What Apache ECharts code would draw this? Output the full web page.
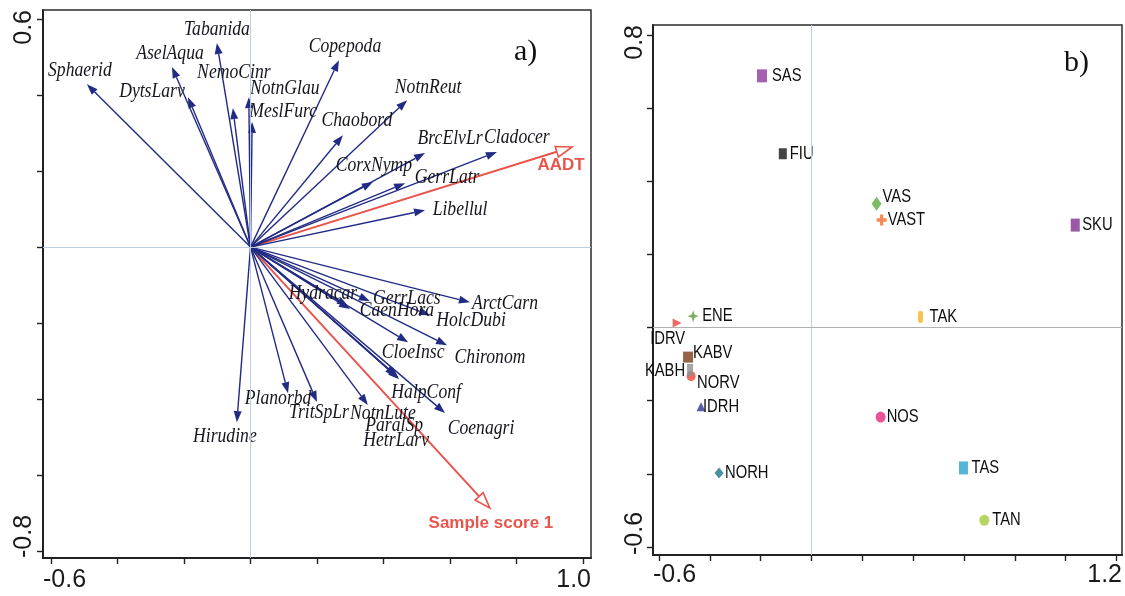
<!DOCTYPE html>
<html><head><meta charset="utf-8">
<script src="https://cdn.jsdelivr.net/npm/echarts@6/dist/echarts.min.js"></script>
<style>html,body{margin:0;padding:0;background:#fff}#c{width:1125px;height:596px}</style>
</head><body><div id="c"></div>
<script>
// ---------- Panel a) : species arrows ----------
const speciesNames = ['Sphaerid','AselAqua','Tabanida','DytsLarv','NemoCinr','NotnGlau','MeslFurc','Copepoda','NotnReut','Chaobord','BrcElvLr','Cladocer','CorxNymp','GerrLatr','Libellul','Hydracar','GerrLacs','CaenHora','ArctCarn','HolcDubi','CloeInsc','Chironom','HalpConf','Coenagri','Planorbd','TritSpLr','NotnLute','ParalSp','HetrLarv','Hirudine'];
const speciesX = [-0.492,-0.236,-0.101,-0.188,-0.053,-0.005,0.005,0.266,0.471,0.278,0.525,0.741,0.368,0.465,0.525,0.293,0.359,0.299,0.660,0.540,0.474,0.591,0.444,0.585,0.113,0.200,0.353,0.438,0.447,-0.041];
const speciesY = [0.428,0.473,0.536,0.394,0.365,0.394,0.329,0.491,0.386,0.294,0.247,0.250,0.171,0.168,0.097,-0.155,-0.142,-0.163,-0.145,-0.179,-0.250,-0.258,-0.342,-0.436,-0.384,-0.407,-0.415,-0.339,-0.347,-0.460];
// supplementary (red) arrows
const envNames = ['AADT','Sample score 1'];
const envX = [0.967, 0.720];
const envY = [0.263, -0.686];
// axis a
const axA = {xMin:-0.624, xMax:1.024, yMin:-0.817, yMax:0.623};
const ticksAX = [-0.6,-0.4,-0.2,0,0.2,0.4,0.6,0.8,1.0];
const ticksAY = [-0.8,-0.6,-0.4,-0.2,0,0.2,0.4,0.6];
const tickLabelsAX = ['-0.6','1.0'];
const tickLabelsAY = ['-0.8','0.6'];

// ---------- Panel b) : sites ----------
const siteNames = ['SAS','FIU','VAS','VAST','SKU','TAK','ENE','IDRV','NORV','KABH','KABV','IDRH','NORH','NOS','TAS','TAN'];
const siteX = [-0.195,-0.113,0.256,0.276,1.038,0.429,-0.466,-0.529,-0.474,-0.478,-0.486,-0.435,-0.364,0.272,0.598,0.680];
const siteY = [0.688,0.475,0.338,0.294,0.280,0.029,0.031,0.012,-0.133,-0.116,-0.081,-0.217,-0.398,-0.245,-0.384,-0.527];
const axB = {xMin:-0.624, xMax:1.222, yMin:-0.622, yMax:0.827};
const ticksBX = [-0.6,-0.4,-0.2,0,0.2,0.4,0.6,0.8,1.0,1.2];
const ticksBY = [-0.6,-0.4,-0.2,0,0.2,0.4,0.6,0.8];
const tickLabelsBX = ['-0.6','1.2'];
const tickLabelsBY = ['-0.6','0.8'];

// ---------- styles / label placement (pixels) ----------
const labelOffA = {
  Sphaerid:[-7,-14], AselAqua:[-2,-14], Tabanida:[0,-14], DytsLarv:[-36,-6], NemoCinr:[1,-36],
  NotnGlau:[36,-9], MeslFurc:[31,-10], Copepoda:[6,-14], NotnReut:[21,-13], Chaobord:[14,-15],
  BrcElvLr:[25,-15], Cladocer:[20,-14], CorxNymp:[1,-17], GerrLatr:[42,-6], Libellul:[35,-1],
  Hydracar:[-25,-13], GerrLacs:[37,-3], CaenHora:[47,1], ArctCarn:[35,1], HolcDubi:[41,5],
  CloeInsc:[5,10], Chironom:[43,12], HalpConf:[28,15], Coenagri:[36,15], Planorbd:[-10,5],
  TritSpLr:[2,11], NotnLute:[15,8], ParalSp:[-2,49], HetrLarv:[-3,61], Hirudine:[-12,14],
  'AADT':[-11,18], 'Sample score 1':[1,15]
};
// [dx, dy, align] of each site label relative to its marker
const labelOffB = {
  SAS:[10,0,'left'], FIU:[7,0,'left'], VAS:[6,-7,'left'], VAST:[6,0,'left'], SKU:[7,0,'left'],
  TAK:[9,0,'left'], ENE:[9,0,'left'], IDRV:[-27,16,'left'], NORV:[6,7,'left'], KABH:[-5,1,'right'],
  KABV:[5,-4,'left'], IDRH:[2,0,'left'], NORH:[6,0,'left'], NOS:[6,0,'left'], TAS:[8,0,'left'], TAN:[8,0,'left']
};
const NAVY = '#222b84', RED = '#e8554d';
const plusPath = 'path://M3.4,0H6.6V3.4H10V6.6H6.6V10H3.4V6.6H0V3.4H3.4Z';
const starPath = 'path://M5,0L6.3,3.7L10,5L6.3,6.3L5,10L3.7,6.3L0,5L3.7,3.7Z';
const siteStyle = {
  SAS:{symbol:'rect',size:[10,13],color:'#8d3a9d'},
  FIU:{symbol:'rect',size:[8,11],color:'#151515'},
  VAS:{symbol:'diamond',size:[10,14],color:'#5cab3d'},
  VAST:{symbol:plusPath,size:[10,11],color:'#f26c2b'},
  SKU:{symbol:'rect',size:[9,13],color:'#7e3094'},
  TAK:{symbol:'roundRect',size:[5,12],color:'#f6b420'},
  ENE:{symbol:starPath,size:[11,12],color:'#5e9b3b'},
  IDRV:{symbol:'triangle',size:[9,9],color:'#e8433a',rotate:-90},
  NORV:{symbol:'circle',size:[9,10],color:'#e8473c'},
  KABH:{symbol:'rect',size:[6,12],color:'#8e8e8e'},
  KABV:{symbol:'rect',size:[10,11],color:'#7a3c1c'},
  IDRH:{symbol:'triangle',size:[9,9],color:'#2b3596'},
  NORH:{symbol:'diamond',size:[9,11],color:'#1e7488'},
  NOS:{symbol:'circle',size:[10,11],color:'#e6287d'},
  TAS:{symbol:'rect',size:[9,13],color:'#2aa3c9'},
  TAN:{symbol:'circle',size:[10,11],color:'#a6c93a'}
};

const chart = echarts.init(document.getElementById('c'));

function arrowItem(api, x, y, name, kind) {
  const o = api.coord([0, 0]);
  const p = api.coord([x, y]);
  const dx = p[0]-o[0], dy = p[1]-o[1];
  const len = Math.sqrt(dx*dx+dy*dy);
  const ux = dx/len, uy = dy/len;
  const red = kind === 'env';
  const hl = red ? 16 : 11, hw = red ? 5.5 : 4;
  const b = [p[0]-ux*hl, p[1]-uy*hl];
  const l = [b[0]-uy*hw, b[1]+ux*hw], r = [b[0]+uy*hw, b[1]-ux*hw];
  const off = labelOffA[name] || [0,0];
  const children = [
    {type:'line', shape:{x1:o[0],y1:o[1],x2:b[0],y2:b[1]}, style:{stroke: red?RED:NAVY, lineWidth: red?2:1.4}},
    {type:'polygon', shape:{points:[p,l,r]}, style: red ? {fill:'#fff', stroke:RED, lineWidth:1.6} : {fill:NAVY}},
    red ? {type:'text', x:p[0]+off[0], y:p[1]+off[1], z2:10,
        style:{text:name, font:'bold 17px "Liberation Sans", Arial, sans-serif', fill:RED, align:'center', verticalAlign:'middle'}}
      : {type:'text', x:p[0]+off[0], y:p[1]+off[1], scaleX:0.84, z2:10,
        style:{text:name, font:'italic 21px "Liberation Serif", "Times New Roman", serif', fill:'#15151f', align:'center', verticalAlign:'middle'}}
  ];
  return {type:'group', children};
}

function makeAxis(gi, mn, mx, ticks, labels, isY) {
  return {
    type:'value', gridIndex:gi, min:mn, max:mx, position: isY?'left':'bottom',
    axisLine:{show:true, onZero:false, lineStyle:{color:'#222', width:2}},
    axisTick:{show:true, customValues:ticks, length:6, lineStyle:{color:'#222', width:1.4}},
    splitLine:{show:false},
    axisLabel:{
      customValues:[mn, mx],
      formatter:(v)=> (Math.abs(v-mn) < 1e-9 ? labels[0] : labels[1]),
      alignMinLabel:'left', alignMaxLabel:'right',
      rotate: isY ? 90 : 0,
      margin: isY ? (gi===0?6:5) : (gi===0?10:8),
      fontSize:25, color:'#1a1a1a', fontFamily:'"Liberation Sans", Arial, sans-serif'
    }
  };
}

const zeroLine = (xi, yi, hColor) => ({
  type:'scatter', xAxisIndex:xi, yAxisIndex:yi, data:[], silent:true, z:1,
  markLine:{silent:true, symbol:['none','none'], label:{show:false}, animation:false,
    data:[
      {xAxis:0, lineStyle:{color:'#bccde0', width:1, type:'solid'}},
      {yAxis:0, lineStyle:{color:hColor, width:1, type:'solid'}}
    ]}
});

const speciesData = speciesNames.map((n,i)=>[speciesX[i], speciesY[i], i]);
const envData = envNames.map((n,i)=>[envX[i], envY[i], i]);
const siteData = siteNames.map((n,i)=>{
  const s = siteStyle[n] || {};
  const item = {name:n, value:[siteX[i], siteY[i]], symbol:s.symbol, symbolSize:s.size, itemStyle:{color:s.color}};
  if (s.rotate) item.symbolRotate = s.rotate;
  return item;
});
const siteLabelData = siteNames.map((n,i)=>[siteX[i], siteY[i], i]);

chart.setOption({
  animation:false,
  backgroundColor:'#fff',
  grid:[
    {left:43, top:10, width:548, height:548, show:true, borderColor:'#2b2b2b', borderWidth:1.5},
    {left:653, top:25, width:470, height:530, show:true, borderColor:'#2b2b2b', borderWidth:1.5}
  ],
  xAxis:[
    makeAxis(0,axA.xMin,axA.xMax,ticksAX,tickLabelsAX,false),
    makeAxis(1,axB.xMin,axB.xMax,ticksBX,tickLabelsBX,false)
  ],
  yAxis:[
    makeAxis(0,axA.yMin,axA.yMax,ticksAY,tickLabelsAY,true),
    makeAxis(1,axB.yMin,axB.yMax,ticksBY,tickLabelsBY,true)
  ],
  graphic:[
    {type:'text', left:514, top:37, style:{text:'a)', font:'30px "Liberation Serif", serif', fill:'#111'}},
    {type:'text', left:1064, top:48, style:{text:'b)', font:'30px "Liberation Serif", serif', fill:'#111'}}
  ],
  series:[
    zeroLine(0,0,'#bccde0'),
    zeroLine(1,1,'#b0b0b0'),
    {type:'custom', xAxisIndex:0, yAxisIndex:0, z:3, clip:false, data:speciesData,
     renderItem:(params, api)=>{ const i = api.value(2); return arrowItem(api, speciesX[i], speciesY[i], speciesNames[i], 'sp'); }},
    {type:'custom', xAxisIndex:0, yAxisIndex:0, z:2, clip:false, data:envData,
     renderItem:(params, api)=>{ const i = api.value(2); return arrowItem(api, envX[i], envY[i], envNames[i], 'env'); }},
    {type:'scatter', xAxisIndex:1, yAxisIndex:1, z:3, data:siteData, label:{show:false}},
    {type:'custom', xAxisIndex:1, yAxisIndex:1, z:4, clip:false, data:siteLabelData,
     renderItem:(params, api)=>{
       const i = api.value(2); const n = siteNames[i];
       const p = api.coord([siteX[i], siteY[i]]);
       const o = labelOffB[n] || [7,0,'left'];
       return {type:'text', x:p[0]+o[0], y:p[1]+o[1], scaleX:0.82,
         style:{text:n, font:'18px "Liberation Sans", Arial, sans-serif', fill:'#0d0d0d', align:o[2], verticalAlign:'middle'}};
     }}
  ]
});
</script></body></html>
